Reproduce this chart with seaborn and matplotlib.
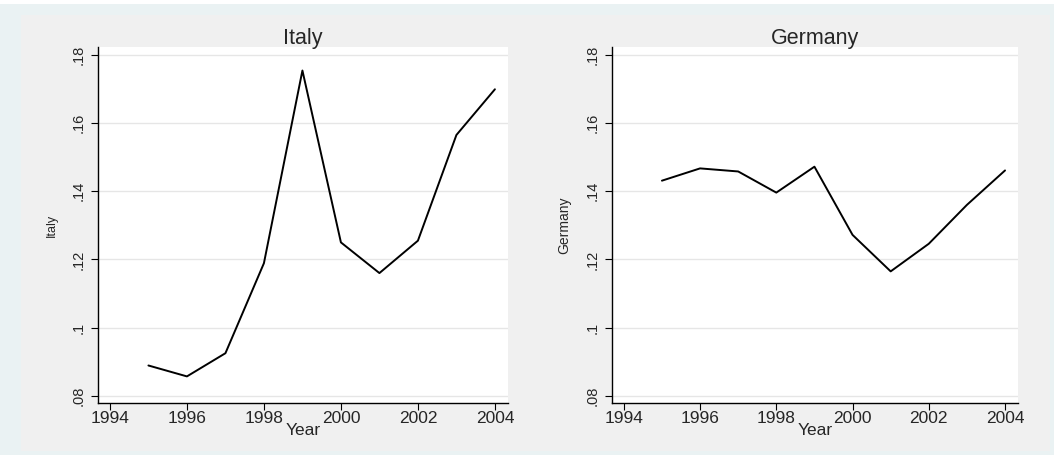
import pandas as pd
import matplotlib as mpl
mpl.use('Agg')
import matplotlib.pyplot as plt
from matplotlib.patches import Rectangle
import seaborn as sns

# Values.
years = [1995, 1996, 1997, 1998, 1999, 2000, 2001, 2002, 2003, 2004]
italy = [0.0889, 0.0857, 0.0925, 0.1189, 0.1754, 0.1250, 0.1160, 0.1255, 0.1565, 0.1699]
germany = [0.1431, 0.1467, 0.1458, 0.1396, 0.1472, 0.1272, 0.1165, 0.1246, 0.1360, 0.1461]
x_ticks = [1994, 1996, 1998, 2000, 2002, 2004]
y_ticks = [0.08, 0.10, 0.12, 0.14, 0.16, 0.18]
y_tick_labels = ['.08', '.1', '.12', '.14', '.16', '.18']


def main():
    sns.set_theme(style='white')
    plt.rcParams['font.family'] = ['Liberation Sans', 'DejaVu Sans']

    W, H = 1054, 455
    fig = plt.figure(figsize=(W / 100, H / 100), dpi=100)
    fig.patch.set_facecolor('#eaf2f3')

    # thin white strip on top, then the Stata style inner graph region
    fig.add_artist(Rectangle((0, 1 - 4 / H), 1, 4 / H, transform=fig.transFigure,
                             facecolor='white', edgecolor='none', zorder=-1))
    fig.add_artist(Rectangle((21 / W, 1 - 451 / H), (1050 - 21) / W, (451 - 15) / H,
                             transform=fig.transFigure, facecolor='#f0f0f0',
                             edgecolor='none', zorder=-1))

    data_df = pd.DataFrame({'Year': years, 'Italy': italy, 'Germany': germany})

    panels = [('Italy', 98, 508, 9), ('Germany', 612, 1018, 10)]
    for name, left, right, ylab_size in panels:
        ax = fig.add_axes([left / W, 1 - 403 / H, (right - left) / W, (403 - 47) / H])
        ax.set_facecolor('white')
        sns.lineplot(x='Year', y=name, data=data_df, ax=ax, color='black', linewidth=1.4)

        ax.set_xlim(1993.69, 2004.34)
        ax.set_ylim(0.0779, 0.1823)
        ax.set_xticks(x_ticks)
        ax.set_yticks(y_ticks)
        ax.set_yticklabels(y_tick_labels, rotation=90, va='center')
        ax.tick_params(axis='both', direction='out', length=5, width=0.8, color='black',
                       bottom=True, left=True)
        ax.tick_params(axis='x', labelsize=12.5, pad=1)
        ax.tick_params(axis='y', labelsize=10.5, pad=4)
        ax.yaxis.grid(True, color='#e6e6e6', linewidth=1)
        ax.set_axisbelow(True)

        for side in ['top', 'right']:
            ax.spines[side].set_visible(False)
        for side in ['left', 'bottom']:
            ax.spines[side].set_color('black')
            ax.spines[side].set_linewidth(1.0)

        ax.set_title(name, fontsize=15.5, pad=2)
        ax.set_xlabel('Year', fontsize=12.5, labelpad=-2.5)
        ax.set_ylabel(name, fontsize=ylab_size, labelpad=10)

    plt.savefig('out.png', dpi=100, facecolor=fig.get_facecolor())


if __name__ == '__main__':
    main()
